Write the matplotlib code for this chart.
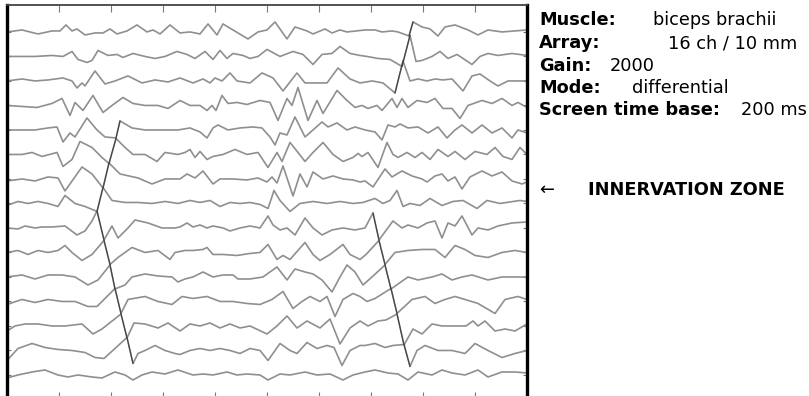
import numpy as np
import matplotlib
matplotlib.use("Agg")
import matplotlib.pyplot as plt

# Set global matplotlib parameters
FIG_W_PX = 809
FIG_H_PX = 396
DPI = 100
TRACE_COLOR = "#8f8f8f"
TRACE_WIDTH = 1.2
MUAP_COLOR = "#404040"
MUAP_WIDTH = 0.8
TEXT_SIZE = 12.8

plt.rc('font', family='DejaVu Sans')

# Screen: 520 samples wide (FS = 2600 Hz -> 200 ms), 10 divisions of 52 samples
SCREEN_START = 7
SCREEN_SAMPLES = 520
DIV_SAMPLES = 52
CH_SPACING = 24.5  # amplitude units between neighbouring channels

# Each channel: (sample index, amplitude) keypoints
ch01 = [(7,0),(22,2),(30,0),(38,-2),(52,1),(60,1),(66,7),(72,1),(77,3),(85,-3),(95,-1),(103,-1),(110,3),(117,-2),
        (127,1),(137,7),(147,0),(153,2),(160,-2),(170,7),(180,-1),(190,0),(200,-2),(208,8),(217,-3),(223,8),(233,2),
        (248,-7),(258,0),(267,2),(275,10),(287,-7),(295,5),(307,1),(313,-2),(325,3),(332,-1),(340,2),(347,0),(365,2),
        (375,2),(382,0),(392,1),(398,0),(409,-4),(413,10),(422,5),(430,3),(438,-4),(445,5),(455,7),(468,2),(478,-3),
        (488,2),(502,0),(527,2)]
ch02 = [(7,0),(20,0),(35,0),(52,1),(63,0),(72,5),(78,-3),(87,-6),(92,-4),(98,6),(108,1),(117,2),(123,-1),(133,3),
        (145,0),(155,-2),(165,0),(177,5),(187,2),(195,-2),(205,5),(213,-3),(220,6),(227,-2),(233,3),(243,1),(250,-2),
        (258,0),(267,7),(280,0),(293,5),(303,2),(313,-8),(322,2),(332,3),(340,10),(350,3),(360,1),(367,0),(378,-2),
        (390,-3),(402,-10),(410,21),(416,-5),(422,-4),(432,0),(440,5),(448,-2),(457,2),(472,-8),(480,0),(488,3),
        (498,1),(512,3),(527,1)]
ch03 = [(7,0),(22,2),(35,0),(48,1),(63,3),(72,0),(77,-7),(82,-2),(85,-5),(95,10),(105,-3),(115,0),(128,5),(142,-2),
        (155,1),(168,-1),(180,3),(193,-2),(203,2),(210,-2),(215,3),(222,0),(230,8),(237,0),(250,-2),(262,8),(273,3),
        (283,-10),(297,8),(305,-2),(313,-2),(327,-2),(338,13),(350,2),(360,-2),(372,0),(383,-2),(395,-12),(403,20),
        (410,0),(418,2),(427,0),(435,2),(443,1),(452,2),(463,-10),(472,5),(480,7),(490,0),(498,-5),(508,0),(527,0)]
ch04 = [(7,0),(22,-1),(37,-2),(52,2),(62,7),(70,-10),(75,3),(83,-5),(93,10),(103,-7),(112,0),(123,8),(133,2),
        (145,0),(158,0),(168,-3),(180,5),(190,0),(200,0),(207,-5),(212,0),(216,-5),(222,10),(228,2),(237,3),(247,1),
        (260,5),(270,3),(278,-15),(287,7),(292,0),(298,18),(308,-15),(317,5),(323,-8),(337,15),(347,5),(355,-2),
        (362,0),(368,-3),(377,0),(382,-5),(392,7),(397,-2),(402,7),(408,-2),(417,5),(427,3),(435,7),(443,-3),
        (452,-3),(460,-13),(468,0),(482,5),(492,2),(502,7),(512,0),(518,3),(527,-2)]
ch05 = [(7,0),(22,0),(35,0),(48,2),(57,3),(63,-12),(70,-3),(75,-7),(87,12),(97,0),(105,-7),(116,-8),(120,9),
        (132,2),(145,0),(162,0),(178,0),(190,2),(200,-2),(207,-8),(213,2),(218,5),(228,0),(240,2),(253,3),(262,2),
        (270,-7),(275,-15),(280,-3),(287,-5),(295,13),(305,-7),(313,0),(322,8),(328,3),(337,7),(347,0),(355,3),
        (365,0),(375,-2),(382,-10),(388,5),(395,3),(400,6),(408,2),(418,3),(428,-3),(438,3),(447,-8),(455,0),
        (462,5),(472,-3),(482,5),(492,-3),(502,2),(512,-8),(518,0),(527,-3)]
ch06 = [(7,0),(22,0),(32,2),(42,-2),(57,2),(63,-12),(72,-5),(80,13),(92,7),(102,-3),(109,-9),(116,16),(125,7),
        (133,0),(145,0),(157,-7),(165,2),(178,0),(185,2),(190,5),(195,-3),(200,3),(207,-5),(213,-2),(223,0),(235,5),
        (247,0),(258,2),(268,-13),(277,2),(282,-7),(290,12),(298,2),(305,-7),(313,2),(323,12),(333,0),(343,-7),
        (353,-3),(358,1),(362,-2),(368,2),(378,-13),(387,12),(393,0),(398,-3),(407,2),(415,-3),(422,2),(430,-5),
        (438,5),(448,-2),(455,3),(465,-5),(475,3),(487,0),(495,7),(503,-2),(512,-5),(520,7),(527,0)]
ch07 = [(7,-2),(22,0),(35,-2),(48,2),(58,1),(65,-12),(82,12),(92,5),(103,-9),(109,16),(120,5),(138,1),(152,-5),
        (165,0),(180,0),(187,5),(195,1),(203,8),(213,-5),(220,0),(233,0),(247,-1),(258,1),(267,-3),(272,2),(277,-4),
        (283,13),(293,-17),(300,5),(307,-8),(313,7),(323,0),(333,3),(343,0),(353,-1),(360,-3),(365,-2),(373,-8),
        (385,10),(392,2),(402,8),(412,3),(422,0),(427,-3),(435,3),(442,5),(448,-2),(455,2),(462,-10),(470,2),
        (482,8),(492,3),(502,7),(512,-2),(522,-5),(527,-3)]
ch08 = [(7,-2),(18,2),(28,0),(38,2),(48,0),(58,-3),(65,8),(75,0),(85,-3),(97,-8),(103,16),(112,3),(125,1),
        (138,1),(152,0),(165,2),(178,0),(190,3),(200,1),(210,3),(220,-3),(230,1),(240,0),(250,1),(260,-1),(268,-5),
        (274,13),(280,3),(290,-8),(300,0),(313,2),(327,0),(340,2),(353,0),(363,1),(375,5),(383,0),(390,3),(397,13),
        (403,-3),(410,0),(420,-2),(430,5),(442,-2),(453,2),(463,3),(477,-5),(487,3),(500,0),(520,3),(527,2)]
ch09 = [(7,0),(18,-1),(25,2),(35,0),(42,1),(52,1),(65,2),(77,-7),(85,-3),(92,7),(97,17),(104,-12),(112,2),
        (118,-10),(128,0),(135,8),(148,5),(162,0),(175,0),(180,1),(187,5),(193,1),(200,3),(207,0),(213,2),(223,0),
        (230,-3),(240,0),(250,2),(260,0),(268,12),(273,3),(280,-2),(287,0),(295,-7),(305,10),(313,0),(322,-7),
        (332,-2),(343,0),(355,-2),(365,0),(373,15),(379,-12),(393,7),(402,0),(408,3),(418,0),(427,5),(435,7),
        (442,-10),(448,5),(455,2),(462,12),(472,-7),(478,0),(488,-2),(498,2),(512,5),(527,6)]
ch10 = [(7,0),(18,2),(28,-2),(38,2),(48,0),(58,2),(65,7),(72,0),(82,-8),(92,-2),(104,12),(110,-12),(118,-5),
        (132,5),(145,0),(158,2),(170,-7),(175,0),(185,2),(193,2),(203,3),(207,5),(213,-2),(223,-2),(237,-3),
        (250,-1),(260,0),(268,8),(277,-7),(283,-3),(290,-7),(305,10),(313,-2),(320,-8),(330,-2),(343,8),(350,-2),
        (360,-7),(366,-2),(379,12),(385,-12),(395,0),(408,2),(422,3),(435,3),(445,-5),(455,7),(465,3),(475,-3),
        (488,-5),(502,0),(515,2),(527,0)]
ch11 = [(7,0),(22,2),(35,-2),(48,2),(62,2),(75,0),(88,-8),(98,-3),(110,12),(115,-12),(125,-8),(132,0),(145,3),
        (158,1),(172,0),(178,-5),(185,-2),(193,0),(203,5),(213,0),(223,2),(233,2),(238,-2),(250,-2),(263,0),
        (277,10),(287,-3),(295,8),(305,5),(313,3),(322,-3),(332,-15),(340,0),(347,12),(355,5),(363,-8),(372,0),
        (385,12),(391,-12),(408,0),(418,-3),(432,0),(442,3),(452,-3),(462,0),(472,2),(488,-3),(502,0),(515,0),
        (527,0)]
ch12 = [(7,-3),(22,2),(35,-1),(48,2),(62,0),(75,0),(88,-5),(97,-5),(115,13),(121,-12),(128,2),(145,5),(158,0),
        (172,-3),(182,5),(193,3),(207,5),(220,0),(233,0),(247,-2),(260,-3),(272,2),(283,10),(293,-7),(302,0),
        (310,5),(320,0),(327,5),(335,-15),(343,2),(353,8),(360,5),(367,0),(375,3),(391,13),(397,-12),(412,2),
        (425,5),(435,-2),(445,2),(455,5),(465,2),(478,-2),(495,-12),(505,2),(518,5),(527,2)]
ch13 = [(7,-5),(15,0),(25,2),(38,2),(52,0),(65,0),(82,2),(93,-8),(102,-3),(121,12),(127,-12),(134,3),(145,2),
        (158,-2),(168,3),(180,-5),(190,2),(200,0),(210,3),(220,-2),(230,2),(240,-2),(250,0),(267,-8),(277,0),
        (287,10),(297,-2),(307,5),(320,-2),(330,7),(340,-18),(350,-2),(360,5),(368,0),(378,5),(386,6),(397,12),
        (404,-19),(413,-3),(422,-8),(432,2),(442,0),(452,0),(466,0),(473,5),(478,0),(485,5),(495,-5),(505,-3),
        (515,-5),(527,2)]
ch14 = [(7,-10),(18,2),(32,7),(45,3),(58,1),(72,0),(85,-2),(95,-7),(104,-8),(127,13),(133,-13),(138,-3),(145,0),
        (155,5),(165,0),(175,-3),(180,-4),(190,0),(200,2),(210,0),(220,2),(230,0),(240,-3),(250,2),(260,0),
        (268,-10),(280,7),(290,0),(297,-3),(307,8),(317,2),(327,5),(334,3),(342,-15),(350,0),(360,5),(365,5),
        (375,7),(385,3),(393,5),(404,6),(410,-16),(417,0),(425,5),(438,0),(452,0),(465,-3),(475,7),(488,0),
        (502,-7),(515,-3),(527,0)]
ch15 = [(7,-3),(18,0),(32,3),(45,5),(58,0),(68,-2),(78,0),(92,-2),(102,-3),(115,3),(125,0),(133,-5),(142,0),
        (152,3),(165,1),(178,5),(193,0),(203,1),(213,0),(227,3),(237,0),(247,1),(260,0),(268,-5),(280,1),(290,0),
        (305,3),(317,0),(330,1),(343,-5),(353,0),(365,3),(375,5),(388,2),(398,1),(408,-5),(418,3),(432,0),(442,5),
        (452,2),(465,0),(478,5),(488,-2),(502,3),(515,3),(527,2)]

CHANNELS = [ch01, ch02, ch03, ch04, ch05, ch06, ch07, ch08, ch09, ch10, ch11, ch12, ch13, ch14, ch15]

# Tracked motor units: (channel index, first sample, last sample) of the steep phase
MUAP_A = [(4, 116, 120), (5, 109, 116), (6, 103, 109), (7, 97, 103), (8, 97, 104), (9, 104, 110),
          (10, 110, 115), (11, 115, 121), (12, 121, 127), (13, 127, 133)]
MUAP_B = [(0, 409, 413), (1, 402, 410), (2, 395, 403), (8, 373, 379), (9, 379, 385), (10, 385, 391),
          (11, 391, 397), (12, 397, 404), (13, 404, 410)]

# Info panel on the right
INFO_LABELS = ["Muscle:", "Array:", "Gain:", "Mode:", "Screen time base:"]
INFO_VALUES = ["biceps brachii", "16 ch / 10 mm", "2000", "differential", "200 ms"]
INFO_VALUE_X = [653, 668, 610, 632, 741]
INFO_Y = [20, 43, 66, 88, 110]
IZ_LABEL = "INNERVATION ZONE"
IZ_Y = 190


def px(x, y):
    # figure pixel -> figure fraction (y measured from top)
    return x / FIG_W_PX, 1 - y / FIG_H_PX


def plotChannels(ax):
    for k, ch in enumerate(CHANNELS):
        t, a = zip(*ch)
        ax.plot(t, np.array(a) - k * CH_SPACING, color=TRACE_COLOR, lw=TRACE_WIDTH,
                solid_joinstyle='round', solid_capstyle='round')


def plotMuap(ax, segments):
    # Darker overlay on the steep phase of the tracked motor unit
    for k, t0, t1 in segments:
        pts = [(t, a) for t, a in CHANNELS[k] if t0 <= t <= t1]
        t, a = zip(*pts)
        ax.plot(t, np.array(a) - k * CH_SPACING, color=MUAP_COLOR, lw=MUAP_WIDTH)


def stylizeScreen(ax):
    ax.set_xlim(SCREEN_START, SCREEN_START + SCREEN_SAMPLES)
    ax.set_ylim(-14.98 * CH_SPACING, 1.10 * CH_SPACING)
    ax.set_xticks(np.arange(SCREEN_START + DIV_SAMPLES, SCREEN_START + SCREEN_SAMPLES, DIV_SAMPLES))
    ax.set_yticks(-np.arange(len(CHANNELS)) * CH_SPACING)
    ax.tick_params(axis='x', direction='in', top=True, bottom=True, length=5, width=0.8,
                   color='#777777', labelbottom=False)
    ax.tick_params(axis='y', direction='in', left=True, right=True, length=3, width=0.8,
                   color='#777777', labelleft=False)
    ax.spines['left'].set_linewidth(2.4)
    ax.spines['right'].set_linewidth(2.4)
    ax.spines['top'].set_linewidth(1.3)
    ax.spines['top'].set_color('#444444')
    ax.spines['bottom'].set_visible(False)


def addInfoText(fig):
    for label, value, vx, y in zip(INFO_LABELS, INFO_VALUES, INFO_VALUE_X, INFO_Y):
        fig.text(*px(539, y), label, fontsize=TEXT_SIZE, fontweight='bold', va='center')
        fig.text(*px(vx, y), value, fontsize=TEXT_SIZE, va='center')
    fig.text(*px(539, IZ_Y), "\u2190", fontsize=TEXT_SIZE, va='center')
    fig.text(*px(588, IZ_Y), IZ_LABEL, fontsize=TEXT_SIZE, fontweight='bold', va='center')


if __name__ == "__main__":
    fig = plt.figure(figsize=(FIG_W_PX / DPI, FIG_H_PX / DPI), dpi=DPI)
    ax = fig.add_axes([7 / FIG_W_PX, -3 / FIG_H_PX, 520 / FIG_W_PX, 394 / FIG_H_PX])
    plotChannels(ax)
    plotMuap(ax, MUAP_A)
    plotMuap(ax, MUAP_B)
    stylizeScreen(ax)
    addInfoText(fig)
    fig.savefig("out.png", dpi=DPI)
